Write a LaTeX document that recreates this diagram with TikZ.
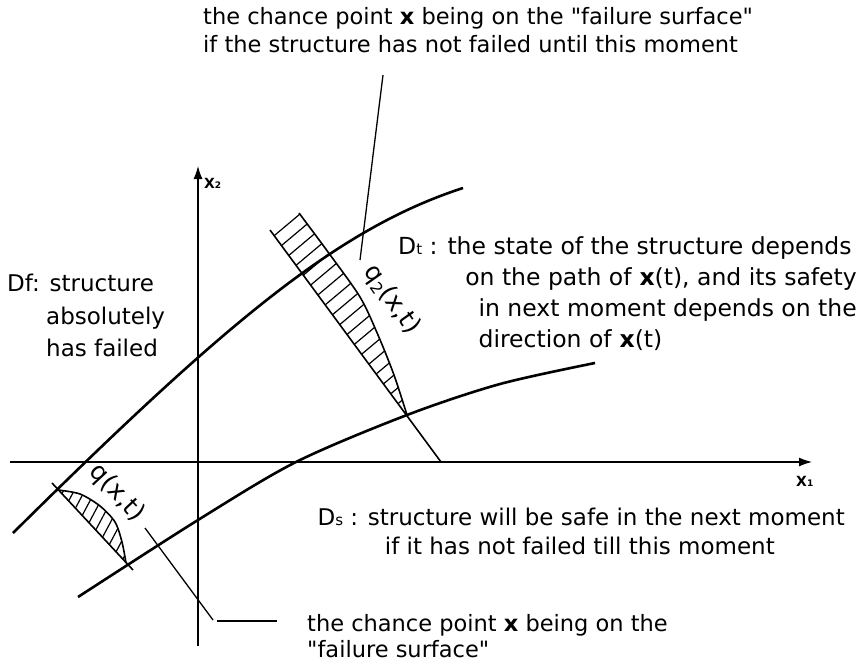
\documentclass[tikz,border=0pt]{standalone}
\usepackage{fontspec}
\setmainfont{DejaVu Sans}
\newfontfamily\qfont{DejaVu Sans}
\usetikzlibrary{arrows.meta,calc}
\newcommand\subsz{\fontsize{15}{15}\selectfont}
\newcommand\dq{{\qfont\char34}}
\begin{document}
\begin{tikzpicture}[x=1pt,y=-1pt,
  txt/.style={font=\fontsize{23}{23}\selectfont, inner sep=0pt},
  txtb/.style={font=\fontsize{23.5}{23.5}\selectfont, inner sep=0pt},
  txts/.style={font=\fontsize{22.5}{22.5}\selectfont, inner sep=0pt},
  qlab/.style={font=\fontsize{25}{25}\selectfont, inner sep=0pt},
  axlab/.style={font=\fontsize{14}{14}\selectfont\bfseries, inner sep=0pt},
  axisline/.style={line width=1.2pt},
  curveline/.style={line width=2.6pt},
  cutline/.style={line width=1.6pt},
  ptrline/.style={line width=1.3pt},
  hatchline/.style={line width=1.2pt},
  tip/.style={-{Latex[length=13pt,width=9pt]}}]
\useasboundingbox (0,0) rectangle (865,664);

% axes
\coordinate (xs) at (10,462); \coordinate (xe) at (812,462);
\coordinate (ys) at (198,646); \coordinate (ye) at (198,166);
\draw[axisline,tip] (xs) -- (xe);
\draw[axisline,tip] (ys) -- (ye);
\node[axlab, anchor=base west] (x1) at (796,486) {X{\fontsize{9}{9}\selectfont 1}};
\node[axlab, anchor=base west] (x2) at (204,188) {X{\fontsize{9}{9}\selectfont 2}};

% boundary curves
\coordinate (ua) at (13,533); \coordinate (ub) at (463,188);
\draw[curveline] (ua) .. controls (230,318) and (340,228) .. (ub);
\draw[curveline] plot[smooth] coordinates {(78,597) (198,520) (296,462) (407,415) (500,384) (595,363)};

% upper hatched region
\coordinate (s1) at (270,230); \coordinate (s2) at (441,462);
\begin{scope}
\clip plot[smooth] coordinates {(299,213) (328,252) (360,297) (378,335) (394,375) (407,415)} -- (s1) -- cycle;
\foreach \c in {466,482,...,760} \draw[hatchline] (250,{\c-0.84*250}) -- (450,{\c-0.84*450});
\end{scope}
\draw[cutline] plot[smooth] coordinates {(299,213) (328,252) (360,297) (378,335) (394,375) (407,415)};
\draw[cutline] (s1) -- (s2);

% lower hatched region
\coordinate (l1) at (52,483); \coordinate (l2) at (133,570);
\begin{scope}
\clip plot[smooth] coordinates {(58,490) (80,494) (100,506) (115,522) (122,542) (126,563)} -- cycle;
\foreach \c in {610,630,...,800} \draw[hatchline] (40,{\c-1.88*40}) -- (150,{\c-1.88*150});
\end{scope}
\draw[cutline] plot[smooth] coordinates {(58,490) (80,494) (100,506) (115,522) (122,542) (126,563)};
\draw[cutline] (l1) -- (l2);

% labels q
\node[qlab, rotate=-47] (q1) at (117,493) {q(x,t)};
\node[qlab, rotate=-55] (q2) at (392,300) {q\raisebox{-0.35ex}{\fontsize{16}{16}\selectfont 2}(x,t)};

% texts
\node[txts, anchor=base west] (top1) at (203,24) {the chance point \textbf{x} being on the \dq failure surface\dq};
\node[txts, anchor=base west] (top2) at (203,52) {if the structure has not failed until this moment};

\node[txt, anchor=base west] (df1) at (7,291) {Df: structure};
\node[txt, anchor=base west] (df2) at (46,324) {absolutely};
\node[txt, anchor=base west] (df3) at (46,356) {has failed};

\node[txtb, anchor=base west] (dt1) at (398,254) {D{\subsz t} : the state of the structure depends};
\node[txtb, anchor=base east] (dt2) at (857,285) {on the path of \textbf{x}(t), and its safety};
\node[txtb, anchor=base east] (dt3) at (857,316) {in next moment depends on the};
\node[txtb, anchor=base west] (dt4) at ($(dt3.base west)+(0,31)$) {direction of \textbf{x}(t)};

\node[txt, anchor=base east] (ds1) at (845,525) {D{\subsz s} : structure will be safe in the next moment};
\node[txt, anchor=base east] (ds2) at (775,554) {if it has not failed till this moment};

\node[txts, anchor=base west] (bt1) at (307,631) {the chance point \textbf{x} being on the};
\node[txts, anchor=base west] (bt2) at (307,657) {\dq failure surface\dq};

% pointers
\coordinate (p1a) at (383,75); \coordinate (p1b) at (360,260);
\draw[ptrline] (p1a) -- (p1b);
\coordinate (p2a) at (145,528); \coordinate (p2b) at (213,620);
\coordinate (p2c) at (217,621); \coordinate (p2d) at (277,621);
\draw[ptrline] (p2a) -- (p2b);
\draw[ptrline] (p2c) -- (p2d);
\end{tikzpicture}
\end{document}
